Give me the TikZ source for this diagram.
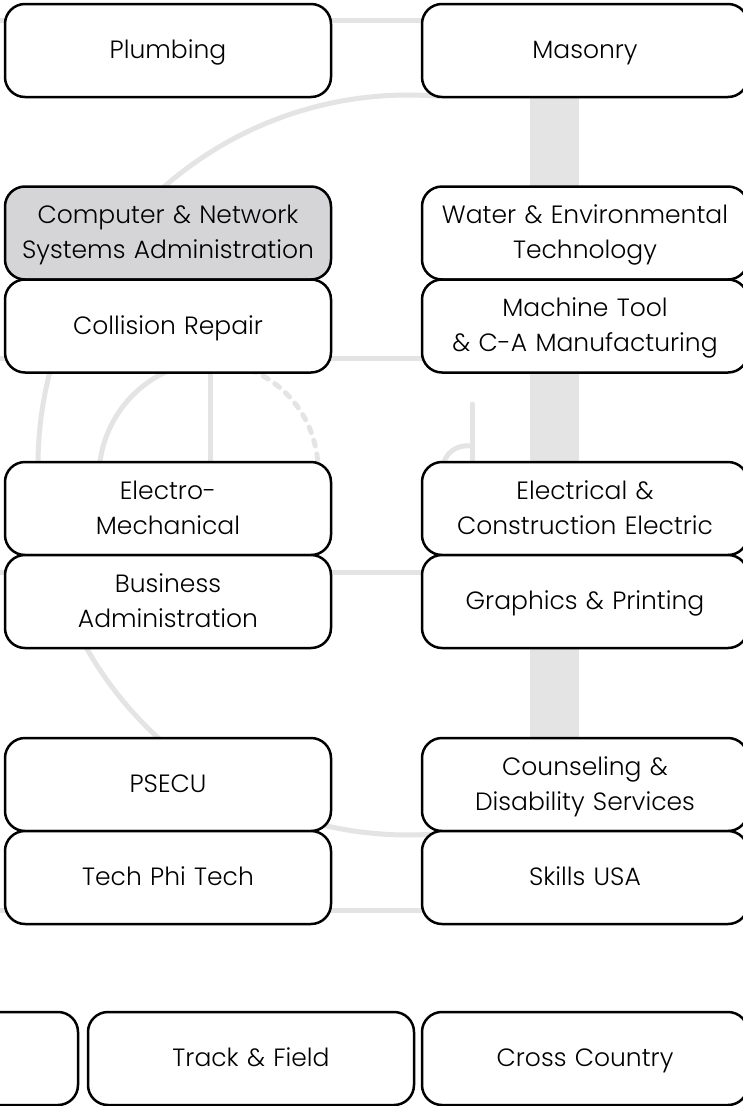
\documentclass[tikz,border=0pt]{standalone}
\usepackage{fontspec}
\IfFontExistsTF{Poppins Light}{\setmainfont{Poppins Light}}{\setmainfont{Poppins}}
\definecolor{wm}{HTML}{E4E4E4}
\definecolor{hl}{HTML}{D5D5D7}
\begin{document}
\begin{tikzpicture}[x=1pt,y=-1pt,
 card/.style={draw=black,line width=2.5pt,fill=white,rounded corners=20pt,minimum width=326pt,minimum height=93pt,inner sep=0pt,text width=320pt,align=center,font=\fontsize{25}{35}\selectfont,execute at begin node=\rule{0pt}{26.5pt},execute at end node=\strut},
 wmline/.style={draw=wm,line width=5pt}]
\useasboundingbox (0,0) rectangle (742,1106);
% watermark
\fill[wm] (530,60) rectangle (579,800);
\foreach \yy in {20,358,572,910} \draw[wmline] (-5,\yy) -- (750,\yy);
\draw[wmline] plot[domain=-85:-275,samples=90,smooth] ({408+370*cos(\x)},{465+370*sin(\x)});
\draw[wmline] plot[domain=-95:-190,samples=40,smooth] ({215+116*cos(\x)},{477+116*sin(\x)});
\draw[wmline,line cap=round,dash pattern=on 6pt off 8pt] plot[domain=-68:-2,samples=40,smooth] ({210+108*cos(\x)},{470+108*sin(\x)});
\draw[wmline] (210,360) -- (210,470);
\draw[wmline,line cap=round] (472,404) -- (472,470);
\draw[wmline] (443,470) .. controls (443,452) and (458,444) .. (472,446);
% cards
\node[card] (plumb) at (168,50.5) {Plumbing};
\node[card] (mason) at (585,50.5) {Masonry};
\node[card,fill=hl] (cnsa) at (168,233) {Computer \& Network\\Systems Administration};
\node[card] (water) at (585,233) {Water \& Environmental\\Technology};
\node[card] (coll) at (168,326) {Collision Repair};
\node[card] (mach) at (585,326) {Machine Tool\\\& C-A Manufacturing};
\node[card] (elmech) at (168,508.5) {Electro-\\Mechanical};
\node[card] (elec) at (585,508.5) {Electrical \&\\Construction Electric};
\node[card] (bus) at (168,601.5) {Business\\Administration};
\node[card] (graph) at (585,601.5) {Graphics \& Printing};
\node[card] (psecu) at (168,784.5) {PSECU};
\node[card] (couns) at (585,784.5) {Counseling \&\\Disability Services};
\node[card] (tpt) at (168,877.5) {Tech Phi Tech};
\node[card] (skills) at (585,877.5) {Skills USA};
\node[card] (cut) at (-85,1058.5) {};
\node[card] (track) at (251,1058.5) {Track \& Field};
\node[card] (cross) at (585,1058.5) {Cross Country};
\end{tikzpicture}
\end{document}
